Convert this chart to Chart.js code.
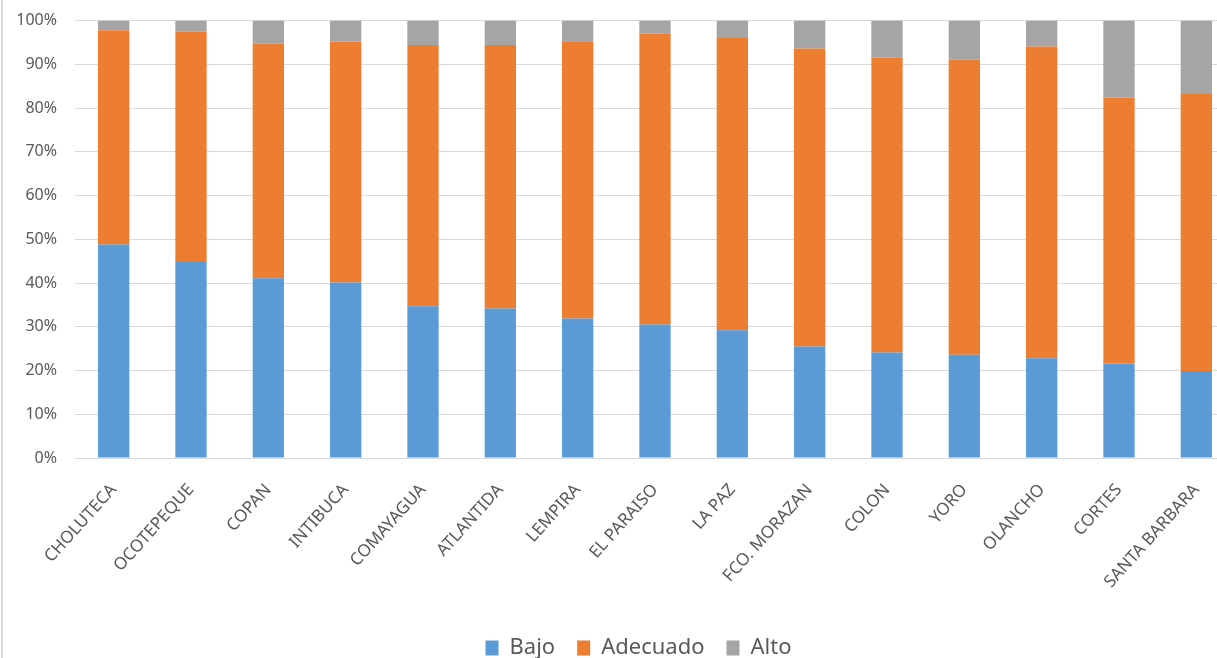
<!DOCTYPE html>
<html>
<head>
<meta charset="utf-8">
<script src="https://cdn.jsdelivr.net/npm/chart.js@4/dist/chart.umd.min.js"></script>
<style>
  html, body { margin: 0; padding: 0; background: #fff; overflow: hidden; }
  #wrap { position: absolute; left: 0; top: -7px; width: 1285px; height: 672px; }
  #edge { position: absolute; left: 1px; top: 0; width: 2px; height: 658px; background: #d9d9d9; }
</style>
</head>
<body>
<div id="wrap"><canvas id="estadoChart" width="1285" height="672"></canvas></div>
<div id="edge"></div>
<script>
// departamentos, ordered by share of "Bajo"
const departamentos = ['CHOLUTECA', 'OCOTEPEQUE', 'COPAN', 'INTIBUCA', 'COMAYAGUA', 'ATLANTIDA', 'LEMPIRA',
  'EL PARAISO', 'LA PAZ', 'FCO. MORAZAN', 'COLON', 'YORO', 'OLANCHO', 'CORTES', 'SANTA BARBARA']
// percentages per category
const bajo     = [48.8, 44.8, 41.1, 40.1, 34.7, 34.2, 31.9, 30.5, 29.2, 25.5, 24.1, 23.6, 22.8, 21.6, 19.9]
const adecuado = [49.0, 52.7, 53.6, 55.1, 59.7, 60.2, 63.4, 66.5, 66.8, 68.1, 67.4, 67.5, 71.3, 60.8, 63.3]
const alto     = [ 2.2,  2.5,  5.3,  4.8,  5.6,  5.6,  4.7,  3.0,  4.0,  6.4,  8.5,  8.9,  5.9, 17.6, 16.8]
const yTicks = [0, 10, 20, 30, 40, 50, 60, 70, 80, 90, 100]

const textColor = '#595959'
const gridColor = '#d9d9d9'
const fontFamily = "'Noto Sans', sans-serif"

function serie(label, data, color) {
    return {
        label: label,
        data: data,
        backgroundColor: color,
        borderColor: color,
        borderWidth: 0,
        barPercentage: 0.405,
        categoryPercentage: 1.0,
    }
}

// nudge the legend so it sits centred under the whole chart box
const legendShift = {
    id: 'legendShift',
    afterLayout(chart) {
        chart.legend.left += 13
        chart.legend.right += 13
        chart.legend.top += 4
        chart.legend.bottom += 4
    },
}

new Chart('estadoChart', {
    type: 'bar',
    data: {
        labels: departamentos,
        datasets: [
            serie('Bajo', bajo, '#5b9bd5'),
            serie('Adecuado', adecuado, '#ed7d31'),
            serie('Alto', alto, '#a5a5a5'),
        ],
    },
    plugins: [legendShift],
    options: {
        responsive: false,
        animation: false,
        layout: {
            padding: { left: 16, right: 50, top: 6, bottom: 0 },
        },
        plugins: {
            legend: {
                position: 'bottom',
                labels: {
                    color: textColor,
                    font: { family: fontFamily, size: 22 },
                    boxWidth: 13,
                    boxHeight: 15,
                    padding: 22,
                },
            },
            tooltip: { enabled: false },
        },
        scales: {
            x: {
                stacked: true,
                grid: { display: false },
                border: { display: true, color: gridColor, width: 1 },
                afterFit: (scale) => { scale.height = 153 },
                ticks: {
                    color: textColor,
                    font: { family: fontFamily, size: 17 },
                    minRotation: 48,
                    maxRotation: 48,
                    autoSkip: false,
                    padding: 14,
                },
            },
            y: {
                stacked: true,
                min: 0,
                max: 100,
                border: { display: false },
                grid: { color: gridColor, lineWidth: 1, drawTicks: false },
                afterBuildTicks: (scale) => { scale.ticks = yTicks.map(v => ({ value: v })) },
                afterFit: (scale) => { scale.width = 59 },
                ticks: {
                    color: textColor,
                    font: { family: fontFamily, size: 16 },
                    padding: 18,
                    callback: (v) => v + '%',
                },
            },
        },
    },
})
</script>
</body>
</html>
